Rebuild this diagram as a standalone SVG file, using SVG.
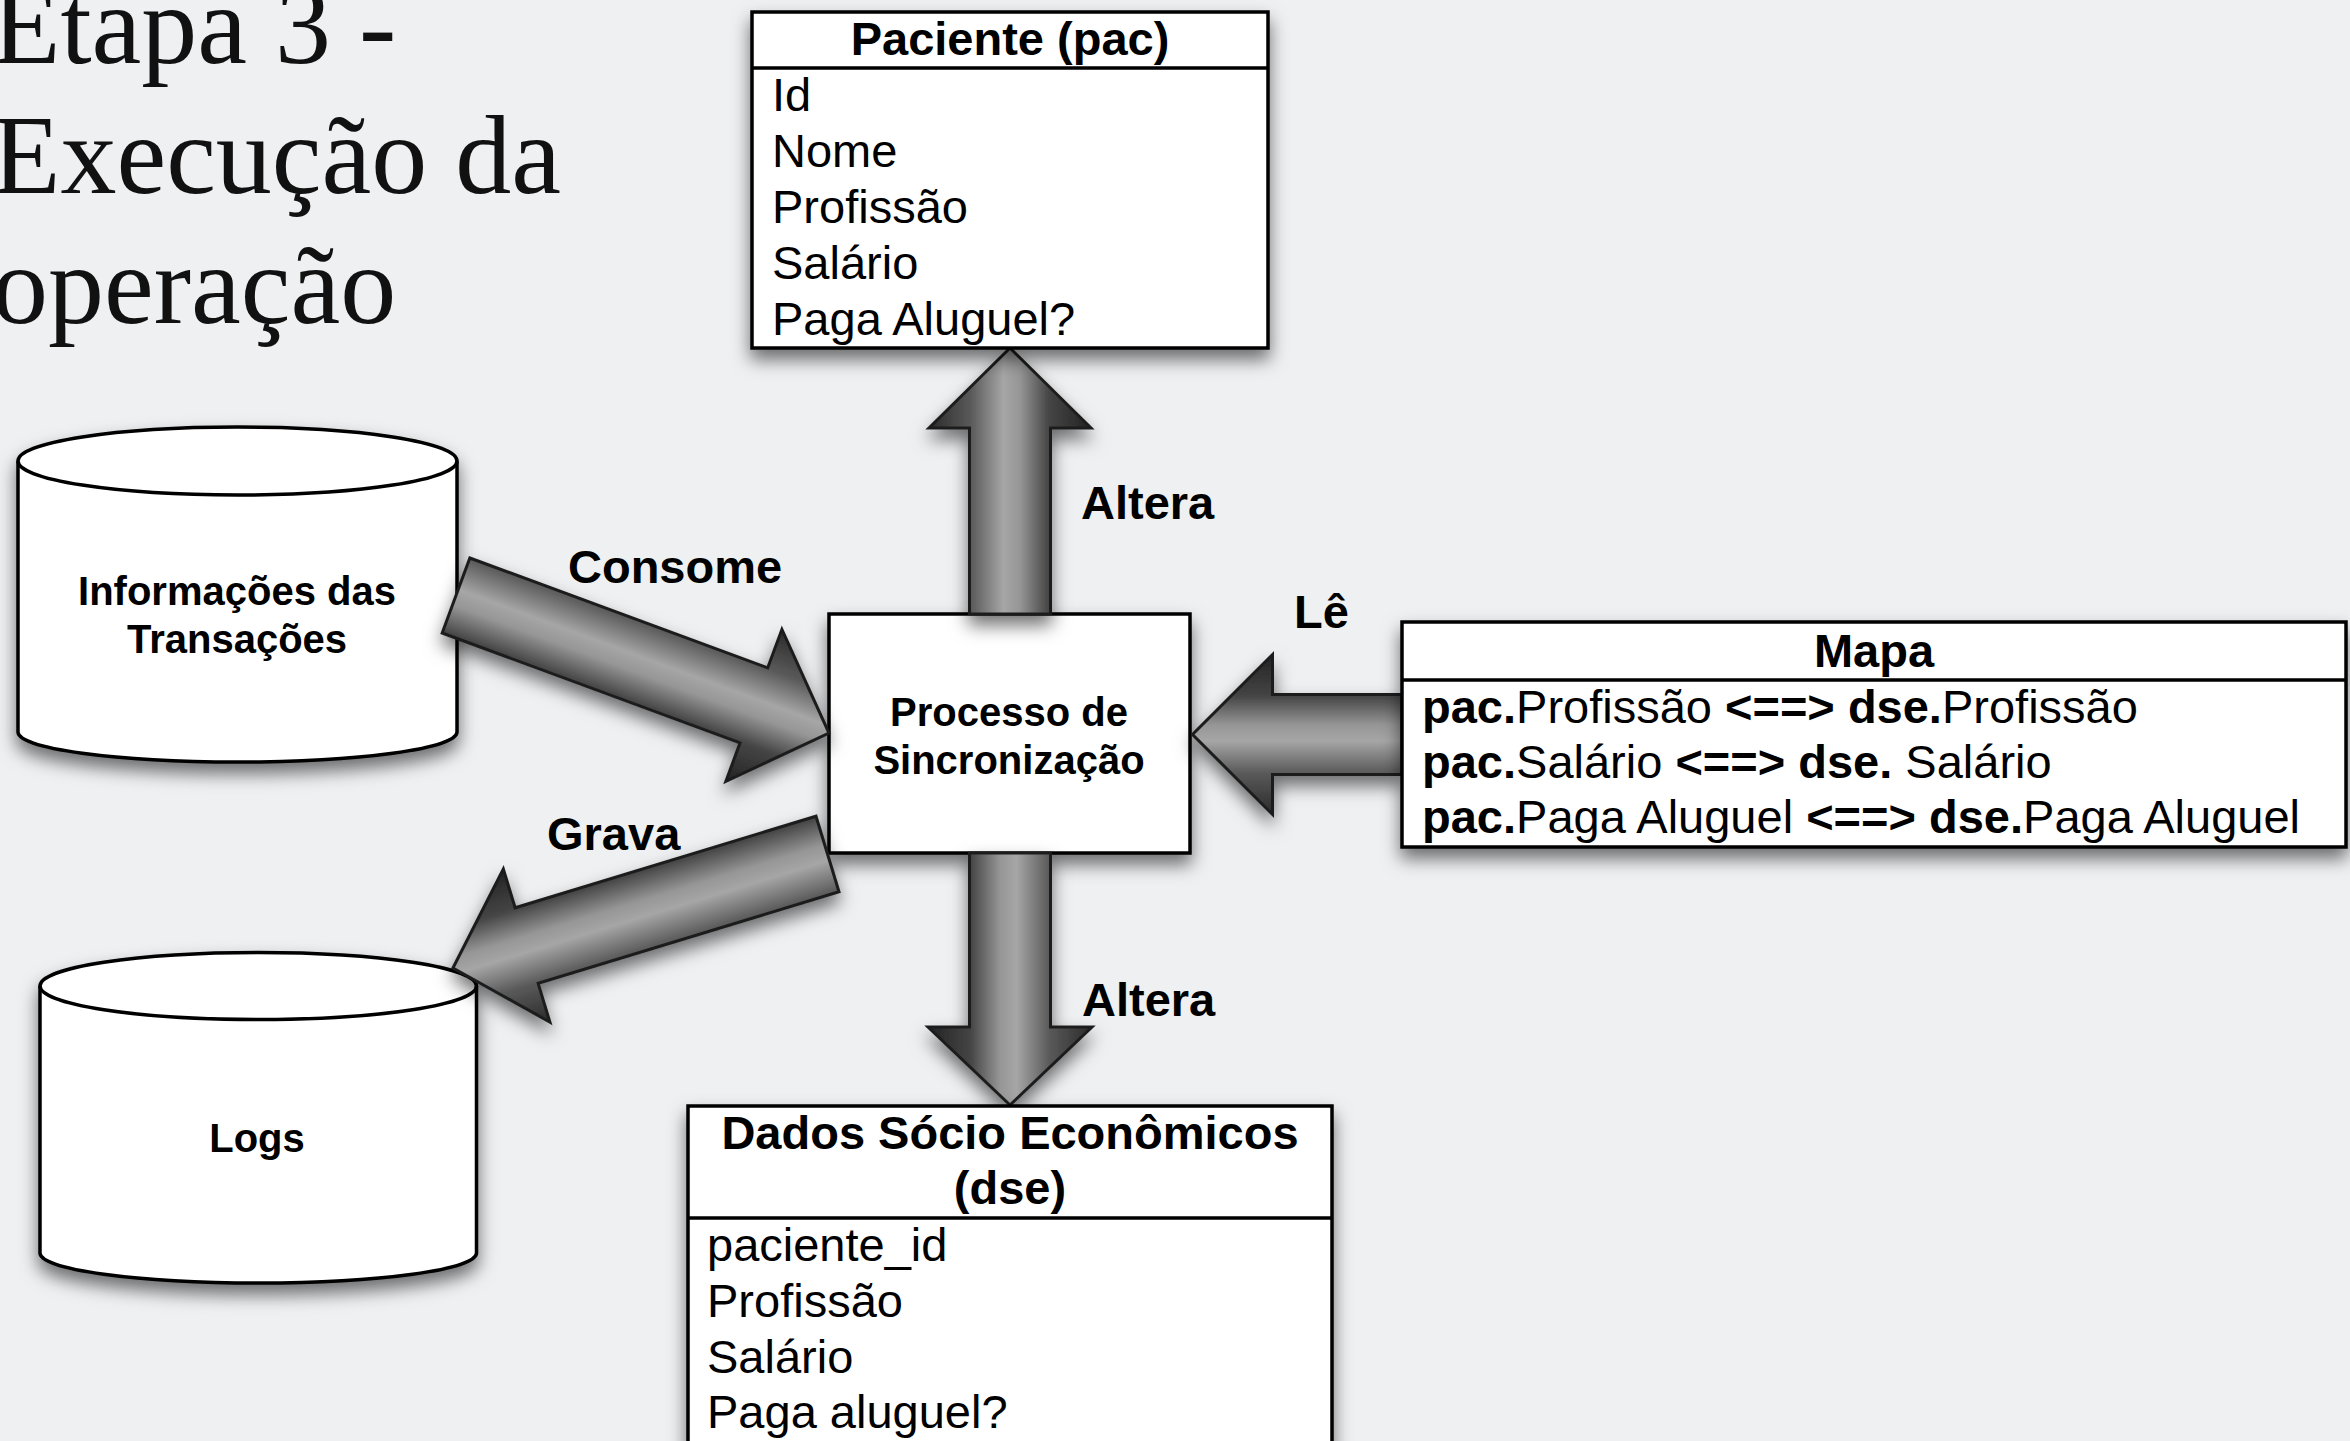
<svg xmlns="http://www.w3.org/2000/svg" width="2350" height="1441" viewBox="0 0 2350 1441">
<defs>
<filter id="sh" x="-20%" y="-20%" width="140%" height="150%">
<feDropShadow dx="0" dy="10" stdDeviation="9" flood-color="#000" flood-opacity="0.55"/>
</filter>
<linearGradient id="ag" x1="0" y1="0" x2="0" y2="1">
<stop offset="0" stop-color="#2a2a2a"/>
<stop offset="0.26" stop-color="#5a5a5a"/>
<stop offset="0.46" stop-color="#a6a6a6"/>
<stop offset="0.56" stop-color="#969696"/>
<stop offset="0.74" stop-color="#454545"/>
<stop offset="1" stop-color="#222"/>
</linearGradient>
<style>
.box{fill:#fff;stroke:#000;stroke-width:3.5}
.ln{stroke:#000;stroke-width:3.5}
.arr{fill:url(#ag);stroke:#1e1e1e;stroke-width:3;stroke-linejoin:miter}
.t{font-family:"Liberation Sans",Arial,Helvetica,sans-serif;font-size:47px;fill:#000}
.b{font-weight:bold}
.lbl{font-family:"Liberation Sans",Arial,Helvetica,sans-serif;font-size:47px;font-weight:bold;fill:#000}
.nl{font-family:"Liberation Sans",Arial,Helvetica,sans-serif;font-size:40px;font-weight:bold;fill:#000;text-anchor:middle}
.title{font-family:"Liberation Serif","Times New Roman",serif;font-size:112px;fill:#111}
</style>
</defs>
<rect x="0" y="0" width="2350" height="1441" fill="#eef0f2"/>

<g id="title">
<text class="title" x="-8" y="63">Etapa 3 -</text>
<text class="title" x="-8" y="193">Execução da</text>
<text class="title" x="-8" y="323">operação</text>
</g>

<g id="informacoes">
<g filter="url(#sh)">
<path class="box" d="M18,461 A219.5,34 0 0 1 457,461 L457,732 A219.5,30 0 0 1 18,732 Z"/>
</g>
<path fill="none" class="ln" d="M18,461 A219.5,34 0 0 0 457,461"/>
<text class="nl" x="237" y="605">Informações das</text>
<text class="nl" x="237" y="653">Transações</text>
</g>

<g id="logs">
<g filter="url(#sh)">
<path class="box" d="M40,986 A218.25,33.5 0 0 1 476.5,986 L476.5,1253 A218.25,30 0 0 1 40,1253 Z"/>
</g>
<path fill="none" class="ln" d="M40,986 A218.25,33.5 0 0 0 476.5,986"/>
<text class="nl" x="257" y="1152">Logs</text>
</g>

<g id="processo">
<rect class="box" x="829" y="614" width="361" height="239" filter="url(#sh)"/>
<text class="nl" x="1009" y="726">Processo de</text>
<text class="nl" x="1009" y="774">Sincronização</text>
</g>

<g id="connectors">
<g filter="url(#sh)">
<path class="arr" transform="translate(1010,614) rotate(-90)" d="M0,-40.5 L186,-40.5 L186,-81 L266,0 L186,81 L186,40.5 L0,40.5 Z"/>
</g>
<g filter="url(#sh)">
<path class="arr" transform="translate(1010,853) rotate(90)" d="M0,-40.5 L174,-40.5 L174,-82 L252,0 L174,82 L174,40.5 L0,40.5 Z"/>
</g>
<g filter="url(#sh)">
<path class="arr" transform="translate(1402,734.5) rotate(180)" d="M0,-40 L129.5,-40 L129.5,-80 L209.5,0 L129.5,80 L129.5,40 L0,40 Z"/>
</g>
<g filter="url(#sh)">
<path class="arr" transform="translate(456,595.5) rotate(20.24)" d="M0,-40 L317.5,-40 L317.5,-81 L397.5,0 L317.5,81 L317.5,40 L0,40 Z"/>
</g>
<g filter="url(#sh)">
<path class="arr" transform="translate(827.5,854) rotate(163.07)" d="M0,-39.5 L314.5,-39.5 L314.5,-80 L391.5,0 L314.5,80 L314.5,39.5 L0,39.5 Z"/>
</g>
<text class="lbl" x="568" y="583">Consome</text>
<text class="lbl" x="1081" y="519">Altera</text>
<text class="lbl" x="1294" y="628">Lê</text>
<text class="lbl" x="547" y="850">Grava</text>
<text class="lbl" x="1082" y="1016">Altera</text>
</g>

<g id="paciente">
<rect class="box" x="752" y="12" width="516" height="336" filter="url(#sh)"/>
<line class="ln" x1="752" y1="68" x2="1268" y2="68"/>
<text class="t b" x="1010" y="55" text-anchor="middle">Paciente (pac)</text>
<text class="t" x="772" y="111">Id</text>
<text class="t" x="772" y="167">Nome</text>
<text class="t" x="772" y="223">Profissão</text>
<text class="t" x="772" y="279">Salário</text>
<text class="t" x="772" y="335">Paga Aluguel?</text>
</g>

<g id="mapa">
<rect class="box" x="1402" y="622" width="944" height="225" filter="url(#sh)"/>
<line class="ln" x1="1402" y1="680" x2="2346" y2="680"/>
<text class="t b" x="1874" y="667" text-anchor="middle">Mapa</text>
<text class="t" x="1422" y="723"><tspan class="b">pac.</tspan>Profissão <tspan class="b">&lt;==&gt; dse.</tspan>Profissão</text>
<text class="t" x="1422" y="778"><tspan class="b">pac.</tspan>Salário <tspan class="b">&lt;==&gt; dse.</tspan> Salário</text>
<text class="t" x="1422" y="833"><tspan class="b">pac.</tspan>Paga Aluguel <tspan class="b">&lt;==&gt; dse.</tspan>Paga Aluguel</text>
</g>

<g id="dados">
<rect class="box" x="688" y="1106" width="644" height="360" filter="url(#sh)"/>
<line class="ln" x1="688" y1="1218" x2="1332" y2="1218"/>
<text class="t b" x="1010" y="1149" text-anchor="middle">Dados Sócio Econômicos</text>
<text class="t b" x="1010" y="1204" text-anchor="middle">(dse)</text>
<text class="t" x="707" y="1261">paciente_id</text>
<text class="t" x="707" y="1317">Profissão</text>
<text class="t" x="707" y="1373">Salário</text>
<text class="t" x="707" y="1428">Paga aluguel?</text>
</g>
</svg>
